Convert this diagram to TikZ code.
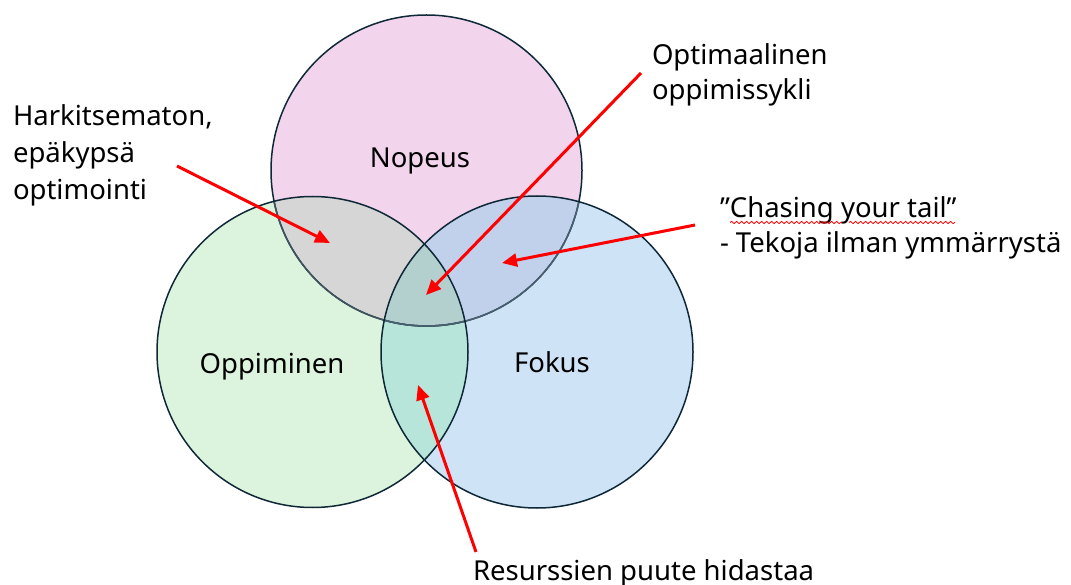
\documentclass[tikz,border=0pt]{standalone}
\usepackage{fontspec}
\setmainfont{Noto Sans}
\usetikzlibrary{arrows.meta,decorations.pathmorphing}
\definecolor{cpink}{RGB}{242,212,236}
\definecolor{cgreen}{RGB}{220,243,221}
\definecolor{cblue}{RGB}{206,228,246}
\definecolor{cgray}{RGB}{214,214,214}
\definecolor{cviolet}{RGB}{193,209,236}
\definecolor{cteal}{RGB}{183,229,218}
\definecolor{ccenter}{RGB}{179,208,206}
\definecolor{cline}{RGB}{14,40,55}
\definecolor{cred}{RGB}{255,0,0}
\tikzset{
  circline/.style={draw=cline, line width=1.5pt},
  redarrow/.style={draw=cred, line width=3pt, -{Triangle[length=15pt,width=13pt]}},
  lbl/.style={inner sep=0pt, outer sep=0pt, font=\fontsize{27.5}{37}\selectfont},
  wavy/.style={draw=cred, line width=0.8pt, decorate, decoration={snake, amplitude=1.1pt, segment length=5pt}}
}
\begin{document}
\begin{tikzpicture}[x=1pt, y=-1pt]
\useasboundingbox (0,0) rectangle (1071,585);
\fill[white] (0,0) rectangle (1071,585);
% base fills
\fill[cpink] (426.5,170.5) circle (155.5pt);
\fill[cgreen] (312.5,352) circle (155.5pt);
\fill[cblue] (537,352) circle (156pt);
\begin{scope}
  \clip (312.5,352) circle (155.5pt);
  \fill[cteal] (537,352) circle (156pt);
\end{scope}
\begin{scope}
  \clip (426.5,170.5) circle (155.5pt);
  \fill[cgray] (312.5,352) circle (155.5pt);
  \fill[cviolet] (537,352) circle (156pt);
  \clip (312.5,352) circle (155.5pt);
  \fill[ccenter] (537,352) circle (156pt);
\end{scope}
% outlines
\draw[circline] (426.5,170.5) circle (155.5pt);
\begin{scope}
  \clip (312.5,352) circle (155.5pt);
  \draw[circline, draw=cline!75!cgray] (426.5,170.5) circle (155.5pt);
\end{scope}
\begin{scope}
  \clip (537,352) circle (156pt);
  \draw[circline, draw=cline!70!cblue] (426.5,170.5) circle (155.5pt);
\end{scope}
\draw[circline] (312.5,352) circle (155.5pt);
\draw[circline] (537,352) circle (156pt);

% circle labels
\node[lbl, anchor=base] (nop) at (420,168) {Nopeus};
\node[lbl, anchor=base] (opp) at (272,373) {Oppiminen};
\node[lbl, anchor=base] (fok) at (552,372) {Fokus};

% annotation texts
\node[lbl, anchor=base west] (h1) at (13,126) {Harkitsematon,};
\node[lbl, anchor=base west] (h2) at (13,163) {epäkypsä};
\node[lbl, anchor=base west] (h3) at (13,200) {optimointi};
\node[lbl, anchor=base west] (o1) at (652,65) {Optimaalinen};
\node[lbl, anchor=base west] (o2) at (652,100) {oppimissykli};
\node[lbl, anchor=base west] (c1) at (720,218) {”Chasing your tail”};
\node[lbl, anchor=base west] (c2) at (720,253) {- Tekoja ilman ymmärrystä};
\node[lbl, anchor=base west] (r1) at (473,580) {Resurssien puute hidastaa};

% spell-check underline
\coordinate (w1a) at (730,222.5);
\coordinate (w1b) at (842,222.5);
\coordinate (w2a) at (849,222.5);
\coordinate (w2b) at (955,222.5);
\draw[wavy] (w1a) -- (w1b);
\draw[wavy] (w2a) -- (w2b);

% arrows
\coordinate (a1s) at (177,166);
\coordinate (a1e) at (330,243);
\coordinate (a2s) at (641,73);
\coordinate (a2e) at (426,295);
\coordinate (a3s) at (695,225);
\coordinate (a3e) at (502,263);
\coordinate (a4s) at (476,552);
\coordinate (a4e) at (418,385);
\draw[redarrow] (a1s) -- (a1e);
\draw[redarrow] (a2s) -- (a2e);
\draw[redarrow] (a3s) -- (a3e);
\draw[redarrow] (a4s) -- (a4e);
\end{tikzpicture}
\end{document}
